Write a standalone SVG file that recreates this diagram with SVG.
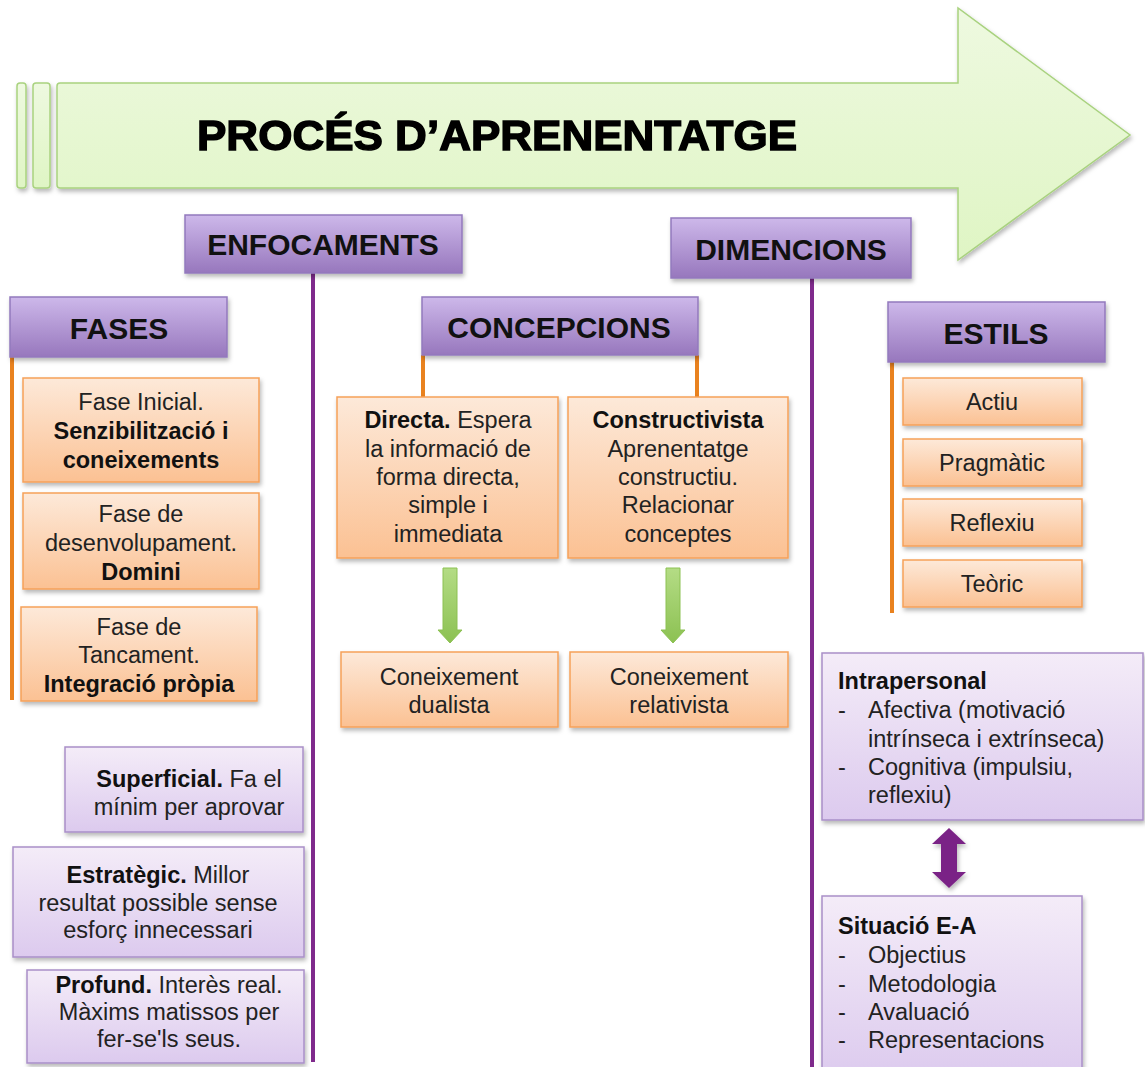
<svg xmlns="http://www.w3.org/2000/svg" width="1145" height="1067" viewBox="0 0 1145 1067">
<defs>
  <linearGradient id="gArrow" x1="0" y1="0" x2="0" y2="1">
    <stop offset="0" stop-color="#eef9e0"/>
    <stop offset="1" stop-color="#dff5c4"/>
  </linearGradient>
  <linearGradient id="gHead" x1="0" y1="0" x2="0" y2="1">
    <stop offset="0" stop-color="#cdb8ea"/>
    <stop offset="1" stop-color="#9777bd"/>
  </linearGradient>
  <linearGradient id="gOrange" x1="0" y1="0" x2="0" y2="1">
    <stop offset="0" stop-color="#fde9d9"/>
    <stop offset="1" stop-color="#fbc193"/>
  </linearGradient>
  <linearGradient id="gLilac" x1="0" y1="0" x2="0" y2="1">
    <stop offset="0" stop-color="#f4ecf8"/>
    <stop offset="1" stop-color="#dccaee"/>
  </linearGradient>
  <linearGradient id="gGreen" x1="0" y1="0" x2="0" y2="1">
    <stop offset="0" stop-color="#b4dc85"/>
    <stop offset="1" stop-color="#8cc152"/>
  </linearGradient>
  <filter id="shadow" x="-10%" y="-10%" width="125%" height="135%">
    <feDropShadow dx="1.5" dy="3" stdDeviation="2" flood-color="#000" flood-opacity="0.28"/>
  </filter>
  <style>
    text { font-family: "Liberation Sans", Arial, sans-serif; fill: #222; }
    .head { fill: url(#gHead); stroke: #9379bd; stroke-width: 1.5; filter: url(#shadow); }
    .org { fill: url(#gOrange); stroke: #f6a158; stroke-width: 1.5; filter: url(#shadow); }
    .lil { fill: url(#gLilac); stroke: #a98fc8; stroke-width: 1.5; filter: url(#shadow); }
    .ht { font-size: 30px; font-weight: bold; text-anchor: middle; fill: #111; }
    .bt { font-size: 23.5px; text-anchor: middle; }
    .lt { font-size: 23.5px; }
    .b { font-weight: bold; fill: #111; }
    .vline { stroke: #7f2a8c; stroke-width: 4; fill: none; }
    .oline { stroke: #e9821f; stroke-width: 4; fill: none; }
  </style>
</defs>

<rect width="1145" height="1067" fill="#ffffff"/>

<!-- process arrow -->
<g id="proces" filter="url(#shadow)">
  <rect x="17" y="83" width="9" height="105" rx="3" fill="url(#gArrow)" stroke="#a9d27f" stroke-width="1.5"/>
  <rect x="33" y="83" width="17" height="105" rx="3" fill="url(#gArrow)" stroke="#a9d27f" stroke-width="1.5"/>
  <path d="M60,83 H958 V8 L1130,135 L958,260 V188 H60 Q57,188 57,185 V86 Q57,83 60,83 Z" fill="url(#gArrow)" stroke="#a9d27f" stroke-width="1.5"/>
  <text x="197" y="150" font-size="42" font-weight="bold" stroke="#000" stroke-width="1.4" textLength="600" lengthAdjust="spacingAndGlyphs" style="fill:#000">PROCÉS D’APRENENTATGE</text>
</g>

<!-- connectors -->
<g id="connectors">
  <line class="vline" x1="313" y1="273" x2="313" y2="1062"/>
  <line class="vline" x1="812" y1="278" x2="812" y2="1067"/>
  <line class="oline" x1="12" y1="357" x2="12" y2="700"/>
  <line class="oline" x1="423" y1="355" x2="423" y2="397"/>
  <line class="oline" x1="697" y1="355" x2="697" y2="397"/>
  <line class="oline" x1="892" y1="362" x2="892" y2="613"/>
  <path d="M443,568 H457 V630 H462 L450,643 L438,630 H443 Z" fill="url(#gGreen)" stroke="#8cc152" stroke-width="1"/>
  <path d="M666,568 H680 V630 H685 L673,643 L661,630 H666 Z" fill="url(#gGreen)" stroke="#8cc152" stroke-width="1"/>
  <path d="M949,828 L966,844 H957 V872 H966 L949,888 L932,872 H941 V844 H932 Z" fill="#7a2386" filter="url(#shadow)"/>
</g>

<!-- section headers -->
<g id="enfocaments">
  <rect class="head" x="185" y="215" width="277" height="58"/>
  <text class="ht" x="323" y="255">ENFOCAMENTS</text>
</g>
<g id="dimencions">
  <rect class="head" x="671" y="218" width="240" height="60"/>
  <text class="ht" x="791" y="260">DIMENCIONS</text>
</g>
<g id="fases">
  <rect class="head" x="10" y="297" width="217" height="60"/>
  <text class="ht" x="119" y="339">FASES</text>
</g>
<g id="concepcions">
  <rect class="head" x="422" y="297" width="276" height="58"/>
  <text class="ht" x="559" y="338">CONCEPCIONS</text>
</g>
<g id="estils">
  <rect class="head" x="888" y="302" width="217" height="60"/>
  <text class="ht" x="996" y="344">ESTILS</text>
</g>

<!-- phases -->
<g id="fase-inicial">
  <rect class="org" x="23" y="378" width="236" height="104"/>
  <text class="bt" x="141" y="410">Fase Inicial.</text>
  <text class="bt b" x="141" y="439">Senzibilització i</text>
  <text class="bt b" x="141" y="468">coneixements</text>
</g>
<g id="fase-desenvolupament">
  <rect class="org" x="23" y="493" width="236" height="96"/>
  <text class="bt" x="141" y="522">Fase de</text>
  <text class="bt" x="141" y="551">desenvolupament.</text>
  <text class="bt b" x="141" y="580">Domini</text>
</g>
<g id="fase-tancament">
  <rect class="org" x="21" y="607" width="236" height="94"/>
  <text class="bt" x="139" y="635">Fase de</text>
  <text class="bt" x="139" y="663">Tancament.</text>
  <text class="bt b" x="139" y="692">Integració pròpia</text>
</g>

<!-- conceptions -->
<g id="directa">
  <rect class="org" x="337" y="397" width="221" height="161"/>
  <text class="bt" x="448" y="428"><tspan class="b">Directa.</tspan> Espera</text>
  <text class="bt" x="448" y="457">la informació de</text>
  <text class="bt" x="448" y="485">forma directa,</text>
  <text class="bt" x="448" y="513">simple i</text>
  <text class="bt" x="448" y="542">immediata</text>
</g>
<g id="constructivista">
  <rect class="org" x="568" y="397" width="220" height="161"/>
  <text class="bt b" x="678" y="428">Constructivista</text>
  <text class="bt" x="678" y="457">Aprenentatge</text>
  <text class="bt" x="678" y="485">constructiu.</text>
  <text class="bt" x="678" y="513">Relacionar</text>
  <text class="bt" x="678" y="542">conceptes</text>
</g>
<g id="dualista">
  <rect class="org" x="341" y="652" width="217" height="75"/>
  <text class="bt" x="449" y="685">Coneixement</text>
  <text class="bt" x="449" y="713">dualista</text>
</g>
<g id="relativista">
  <rect class="org" x="570" y="652" width="218" height="75"/>
  <text class="bt" x="679" y="685">Coneixement</text>
  <text class="bt" x="679" y="713">relativista</text>
</g>

<!-- styles -->
<g id="actiu">
  <rect class="org" x="903" y="378" width="179" height="47"/>
  <text class="bt" x="992" y="410">Actiu</text>
</g>
<g id="pragmatic">
  <rect class="org" x="903" y="439" width="179" height="47"/>
  <text class="bt" x="992" y="471">Pragmàtic</text>
</g>
<g id="reflexiu">
  <rect class="org" x="903" y="499" width="179" height="47"/>
  <text class="bt" x="992" y="531">Reflexiu</text>
</g>
<g id="teoric">
  <rect class="org" x="903" y="560" width="179" height="47"/>
  <text class="bt" x="992" y="592">Teòric</text>
</g>

<!-- approaches -->
<g id="superficial">
  <rect class="lil" x="65" y="747" width="238" height="85"/>
  <text class="bt" x="189" y="787"><tspan class="b">Superficial.</tspan> Fa el</text>
  <text class="bt" x="189" y="815">mínim per aprovar</text>
</g>
<g id="estrategic">
  <rect class="lil" x="13" y="847" width="291" height="110"/>
  <text class="bt" x="158" y="883"><tspan class="b">Estratègic.</tspan> Millor</text>
  <text class="bt" x="158" y="911">resultat possible sense</text>
  <text class="bt" x="158" y="938">esforç innecessari</text>
</g>
<g id="profund">
  <rect class="lil" x="27" y="970" width="277" height="93"/>
  <text class="bt" x="169" y="993"><tspan class="b">Profund.</tspan> Interès real.</text>
  <text class="bt" x="169" y="1020">Màxims matissos per</text>
  <text class="bt" x="169" y="1047">fer-se'ls seus.</text>
</g>

<!-- dimensions -->
<g id="intrapersonal">
  <rect class="lil" x="822" y="653" width="321" height="167"/>
  <text class="lt b" x="838" y="689">Intrapersonal</text>
  <text class="lt" x="838" y="718">-</text>
  <text class="lt" x="868" y="718">Afectiva (motivació</text>
  <text class="lt" x="868" y="747">intrínseca i extrínseca)</text>
  <text class="lt" x="838" y="775">-</text>
  <text class="lt" x="868" y="775">Cognitiva (impulsiu,</text>
  <text class="lt" x="868" y="803">reflexiu)</text>
</g>
<g id="situacio">
  <rect class="lil" x="822" y="896" width="260" height="185"/>
  <text class="lt b" x="838" y="934">Situació E-A</text>
  <text class="lt" x="838" y="963">-</text>
  <text class="lt" x="868" y="963">Objectius</text>
  <text class="lt" x="838" y="992">-</text>
  <text class="lt" x="868" y="992">Metodologia</text>
  <text class="lt" x="838" y="1020">-</text>
  <text class="lt" x="868" y="1020">Avaluació</text>
  <text class="lt" x="838" y="1048">-</text>
  <text class="lt" x="868" y="1048">Representacions</text>
</g>
</svg>
